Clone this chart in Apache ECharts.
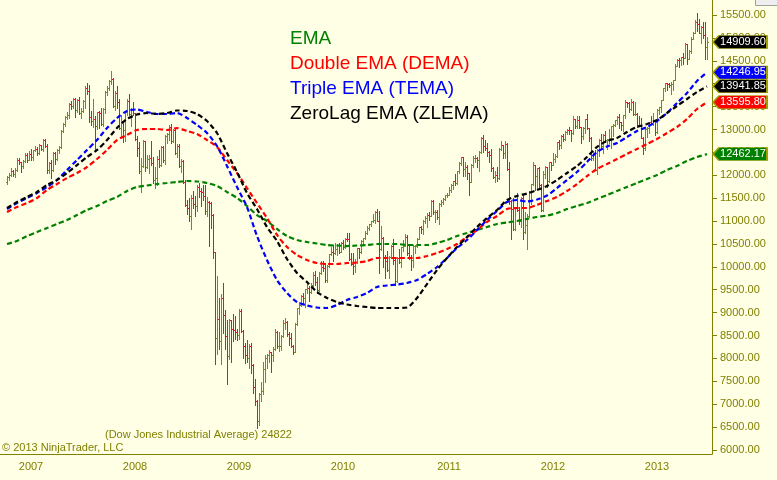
<!DOCTYPE html>
<html><head><meta charset="utf-8">
<script src="https://cdn.jsdelivr.net/npm/echarts@6/dist/echarts.min.js"></script>
<style>html,body{margin:0;padding:0;background:#FFFFE6;}#c{width:777px;height:480px;}</style>
</head><body><div id="c"></div>
<script>
// Weekly Dow Jones Industrial Average bars, [open, high, low, close], week ending Fridays
const years = ['2006','2007','2008','2009','2010','2011','2012','2013'];
const yearTickLabels = ['2007','2008','2009','2010','2011','2012','2013'];
const bars2006 = [
[11850,11990,11800,11960],[11960,12050,11900,12002],[12002,12167,11980,12090],[12090,12120,11990,12031],
[12031,12160,11960,12108],[12108,12380,12090,12342],[12342,12370,12250,12280],[12280,12300,12080,12194],
[12194,12340,12150,12307],[12307,12480,12280,12445],[12445,12480,12300,12343],[12343,12520,12330,12463]];
const bars2007 = [
[12463,12580,12340,12398],[12398,12560,12340,12556],[12556,12630,12520,12565],[12565,12620,12450,12487],
[12487,12680,12470,12653],[12653,12670,12560,12580],[12580,12790,12540,12768],[12768,12795,12620,12647],
[12647,12680,12050,12114],[12114,12300,12040,12276],[12276,12340,11940,12110],[12110,12500,12100,12481],
[12481,12500,12250,12354],[12354,12580,12330,12560],[12560,12640,12480,12612],[12612,12980,12600,12961],
[12961,13150,12940,13121],[13121,13290,13070,13265],[13265,13390,13220,13326],[13326,13570,13250,13556],
[13556,13630,13450,13507],[13507,13690,13480,13668],[13668,13690,13270,13424],[13424,13660,13380,13640],
[13640,13700,13330,13361],[13361,13460,13250,13409],[13409,13640,13380,13612],[13612,13940,13480,13908],
[13908,14020,13780,13851],[13851,13980,13160,13266],[13266,13410,13090,13182],[13182,13660,13050,13239],
[13239,13300,12520,13079],[13079,13390,13020,13379],[13379,13400,13030,13358],[13358,13470,13090,13113],
[13113,13480,13070,13442],[13442,13850,13350,13820],[13820,13960,13760,13896],[13896,14090,13860,14066],
[14066,14280,14000,14093],[14093,14130,13500,13522],[13522,13830,13420,13807],[13807,13950,13480,13595],
[13595,13660,13000,13042],[13042,13310,12860,13177],[13177,13180,12730,12981],[12981,13400,12750,13372],
[13372,13660,13310,13626],[13626,13780,13320,13340],[13340,13480,13070,13451],[13451,13600,13310,13366]];
const bars2008 = [
[13366,13370,12780,12800],[12800,12850,12430,12606],[12606,12730,12050,12099],[12099,12380,11630,12207],
[12207,12770,12180,12743],[12743,12750,12100,12182],[12182,12450,12150,12348],[12348,12450,12050,12381],
[12381,12750,12230,12266],[12266,12400,11840,11894],[11894,12180,11730,11951],[11951,12420,11780,12361],
[12361,12560,12180,12216],[12216,12650,12210,12610],[12610,12650,12300,12325],[12325,12880,12240,12849],
[12849,12920,12700,12891],[12891,13100,12780,13058],[13058,13130,12700,12745],[12745,13020,12720,12986],
[12986,13010,12460,12480],[12480,12690,12400,12638],[12638,12680,12190,12210],[12210,12350,12080,12307],
[12307,12330,11830,11843],[11843,11890,11330,11346],[11346,11470,11150,11289],[11289,11500,11000,11100],
[11100,11560,10830,11496],[11496,11650,11280,11370],[11370,11550,11120,11327],[11327,11780,11210,11734],
[11734,11830,11530,11659],[11659,11720,11320,11628],[11628,11790,11450,11543],[11543,11790,11150,11220],
[11220,11520,11100,11421],[11421,11440,10460,11388],[11388,11420,10850,11143],[11143,11150,10200,10325],
[10325,10330,7880,8451],[8451,9800,8090,8852],[8852,9330,8200,8378],[8378,9400,7880,9325],
[9325,9650,8550,8943],[8943,9050,8200,8497],[8497,8830,7450,8046],[8046,8870,7990,8829],
[8829,8840,7920,8635],[8635,8960,8390,8629],[8629,8920,8420,8579],[8579,8650,8400,8515]];
const bars2009 = [
[8515,9080,8420,9034],[9034,9090,8570,8599],[8599,8630,8000,8281],[8281,8330,7910,8077],
[8077,8400,7930,8001],[8001,8320,7800,8280],[8280,8330,7680,7850],[7850,7880,7250,7366],
[7366,7560,6990,7063],[7063,7100,6470,6627],[6627,7250,6540,7224],[7224,7490,7060,7279],
[7279,7930,7220,7776],[7776,8080,7490,8018],[8018,8090,7790,8083],[8083,8180,7930,8131],
[8131,8140,7700,8076],[8076,8260,7940,8212],[8212,8650,8180,8575],[8575,8600,8220,8268],
[8268,8580,8160,8277],[8277,8520,8190,8500],[8500,8830,8470,8764],[8764,8880,8650,8799],
[8799,8810,8480,8540],[8540,8580,8300,8438],[8438,8550,8260,8281],[8281,8300,8090,8147],
[8147,8780,8140,8744],[8744,9110,8720,9093],[9093,9230,8980,9172],[9172,9390,9150,9370],
[9370,9420,9200,9321],[9321,9510,9130,9506],[9506,9630,9430,9544],[9544,9580,9250,9441],
[9441,9650,9420,9606],[9606,9880,9580,9820],[9820,9900,9610,9665],[9665,9780,9430,9488],
[9488,9890,9480,9865],[9865,10120,9850,9996],[9996,10120,9900,9972],[9972,10090,9680,9713],
[9713,10050,9680,10023],[10023,10290,10000,10271],[10271,10440,10260,10319],[10319,10470,10120,10310],
[10310,10520,10270,10389],[10389,10500,10250,10471],[10471,10530,10300,10329],[10329,10540,10320,10520]];
const bars2010 = [
[10520,10580,10390,10428],[10428,10630,10420,10618],[10618,10730,10560,10610],[10610,10730,10150,10173],
[10173,10300,10030,10067],[10067,10310,9840,10012],[10012,10170,9880,10099],[10099,10420,10080,10402],
[10402,10420,10190,10325],[10325,10580,10300,10566],[10566,10640,10500,10625],[10625,10790,10600,10742],
[10742,10900,10720,10851],[10851,10930,10800,10927],[10927,11010,10900,10997],[10997,11150,10980,11019],
[11019,11220,10950,11204],[11204,11260,11000,11009],[11009,11210,9870,10380],[10380,10900,10370,10620],
[10620,10660,10000,10193],[10193,10260,9760,10137],[10137,10340,9920,9931],[9931,10240,9760,10212],
[10212,10480,10200,10450],[10450,10600,10070,10144],[10144,10180,9610,9686],[9686,10220,9680,10198],
[10198,10390,10080,10098],[10098,10440,9990,10425],[10425,10590,10350,10466],[10466,10720,10460,10653],
[10653,10700,10260,10303],[10303,10450,10180,10214],[10214,10260,9940,10150],[10150,10470,9990,10448],
[10448,10480,10300,10462],[10462,10630,10440,10608],[10608,10870,10600,10861],[10861,10900,10730,10829],
[10829,11020,10710,11006],[11006,11100,10950,11063],[11063,11170,10880,11133],[11133,11200,11030,11118],
[11118,11450,11110,11445],[11445,11450,11150,11193],[11193,11240,10990,11204],[11204,11240,11050,11092],
[11092,11390,10930,11382],[11382,11460,11340,11410],[11410,11500,11370,11492],[11492,11580,11450,11573],
[11573,11620,11530,11578]];
const bars2011 = [
[11578,11750,11570,11675],[11675,11800,11630,11787],[11787,11880,11690,11871],[11871,12020,11790,11824],
[11824,12100,11820,12092],[12092,12280,12060,12273],[12273,12400,12230,12391],[12391,12400,11980,12130],
[12130,12290,11990,12170],[12170,12230,11920,12044],[12044,12050,11560,11858],[11858,12240,11850,12221],
[12221,12420,12180,12376],[12376,12450,12290,12380],[12380,12400,12170,12342],[12342,12530,12090,12505],
[12505,12830,12490,12811],[12811,12880,12510,12638],[12638,12780,12560,12596],[12596,12700,12430,12512],
[12512,12520,12300,12441],[12441,12570,12090,12151],[12151,12180,11930,11952],[11952,12100,11860,12004],
[12004,12190,11870,11934],[11934,12600,11920,12582],[12582,12750,12550,12657],[12657,12660,12380,12480],
[12480,12750,12380,12681],[12681,12700,12110,12143],[12143,12300,11380,11445],[11445,11450,10600,11269],
[11269,11500,10800,10818],[10818,11300,10810,11285],[11285,11620,11230,11240],[11240,11300,10930,10993],
[10993,11520,10860,11510],[11510,11570,10600,10771],[10771,11200,10750,10913],[10913,11150,10400,11104],
[11104,11650,11080,11644],[11644,11820,11380,11809],[11809,12290,11790,12231],[12231,12230,11680,11983],
[11983,12160,11720,12153],[12153,12190,11700,11796],[11796,11800,11230,11231],[11231,12100,11230,12019],
[12019,12200,11940,12184],[12184,12190,11740,11866],[11866,12300,11860,12294],[12294,12300,12120,12218]];
const bars2012 = [
[12218,12480,12220,12360],[12360,12470,12300,12422],[12422,12730,12400,12720],[12720,12760,12570,12660],
[12660,12870,12600,12862],[12862,12900,12740,12801],[12801,12970,12780,12950],[12950,13010,12900,12983],
[12983,13060,12900,12978],[12978,12990,12740,12922],[12922,13290,12900,13233],[13233,13240,13040,13081],
[13081,13290,13040,13212],[13212,13300,13040,13060],[13060,13060,12710,12850],[12850,13060,12790,13029],
[13029,13240,12930,13228],[13228,13340,13020,13038],[13038,13040,12740,12820],[12820,12840,12340,12369],
[12369,12540,12340,12454],[12454,12560,12110,12119],[12119,12570,12030,12554],[12554,12800,12420,12767],
[12767,12900,12570,12640],[12640,12900,12490,12880],[12880,12970,12730,12772],[12772,12800,12570,12777],
[12777,13000,12710,12822],[12822,13080,12590,13075],[13075,13110,12860,13096],[13096,13210,13080,13207],
[13207,13300,13130,13275],[13275,13330,13040,13158],[13158,13160,12990,13090],[13090,13310,12960,13306],
[13306,13650,13250,13593],[13593,13600,13490,13579],[13579,13590,13390,13437],[13437,13660,13420,13610],
[13610,13620,13320,13329],[13329,13590,13320,13343],[13343,13350,13060,13107],[13107,13290,13070,13093],
[13093,13250,12810,12815],[12815,12840,12470,12588],[12588,13010,12560,13010],[13010,13050,12840,13026],
[13026,13170,12930,13155],[13155,13300,13120,13135],[13135,13350,13090,13191],[13191,13200,12880,12938]];
const bars2013 = [
[12938,13440,12930,13435],[13435,13490,13330,13488],[13488,13650,13380,13650],[13650,13900,13640,13896],
[13896,14020,13830,14010],[14010,14020,13860,13993],[13993,14020,13930,13982],[13982,14040,13780,14001],
[14001,14090,13860,14090],[14090,14420,14080,14397],[14397,14540,14380,14515],[14515,14560,14370,14512],
[14512,14590,14400,14579],[14579,14680,14430,14565],[14565,14890,14570,14865],[14865,14870,14440,14547],
[14547,14740,14540,14712],[14712,15010,14680,14974],[14974,15130,14970,15118],[15118,15390,15100,15354],
[15354,15540,15160,15303],[15303,15410,15110,15116],[15116,15250,14880,15248],[15248,15340,14990,15070],
[15070,15340,14550,14800],[14800,15010,14550,14909.60]];
const yearBars = [bars2006,bars2007,bars2008,bars2009,bars2010,bars2011,bars2012,bars2013];

// Moving averages, one value every 5th weekly bar (starting with the first bar)
const maStep = 5;
const emaVals = [10499,10565,10674,10761,10848,10936,11023,11132,11242,11329,
11438,11526,11657,11744,11777,11809,11831,11853,11875,11864,
11831,11766,11635,11504,11329,11132,11001,10827,10674,10586,
10543,10510,10477,10466,10455,10466,10477,10499,10499,10499,
10477,10477,10477,10521,10586,10674,10739,10805,10870,10936,
10969,11001,11045,11089,11121,11176,11263,11329,11394,11482,
11569,11657,11744,11831,11919,12006,12115,12203,12312,12399,12462.17];
const demaVals = [11198,11307,11394,11504,11678,11809,11940,12050,12181,12355,
12552,12770,12880,12989,13011,13011,12989,13032,12967,12901,
12770,12618,12334,12050,11722,11394,11067,10696,10434,10259,
10150,10084,10062,10062,10084,10095,10128,10193,10193,10193,
10193,10193,10237,10302,10390,10499,10652,10805,10980,11111,
11263,11285,11285,11351,11438,11526,11657,11809,11984,12137,
12246,12355,12465,12574,12683,12792,12923,13054,13229,13447,13595.80];
const temaVals = [11263,11394,11504,11613,11744,11897,12115,12334,12552,12770,
13032,13251,13404,13437,13382,13338,13338,13360,13251,13098,
12923,12639,12203,11744,11307,10674,10150,9713,9429,9232,
9156,9112,9101,9167,9276,9342,9429,9560,9593,9615,
9647,9713,9844,9997,10193,10412,10586,10805,11023,11220,
11416,11460,11427,11471,11558,11722,11897,12072,12290,12508,
12628,12705,12836,12967,13054,13185,13360,13578,13797,14059,14246.95];
const zlemaVals = [11285,11416,11526,11635,11788,11897,12050,12224,12399,12552,
12770,13032,13229,13327,13360,13338,13360,13415,13404,13338,
13185,12923,12486,12072,11613,11263,10870,10565,10171,9866,
9669,9451,9320,9232,9178,9145,9123,9101,9101,9101,
9112,9320,9625,9931,10193,10434,10652,10870,11067,11242,
11460,11547,11602,11678,11766,11897,12050,12203,12399,12618,
12749,12814,12945,13054,13120,13207,13360,13513,13666,13819,13941.85];

const seriesNames = ['EMA','Double EMA (DEMA)','Triple EMA (TEMA)','ZeroLag EMA (ZLEMA)'];
const seriesColors = ['#008000','#FF0000','#0000FF','#000000'];
const UP = '#6B8E23', DOWN = '#DC143C', OLIVE = '#808000';
const FONT = '"Liberation Sans", Arial, sans-serif';

// category axis: a few empty slots before/after the weekly bars
const padBefore = 3, padAfter = 2;
const cats = [];
for (let p = 0; p < padBefore; p++) cats.push('padA' + p);
const ohlc = [];
yearBars.forEach((arr, yi) => arr.forEach((b, k) => {
  ohlc.push([cats.length, b[0], b[1], b[2], b[3]]);
  cats.push(years[yi] + '-' + k);
}));
for (let p = 0; p < padAfter; p++) cats.push('padB' + p);
const isYearStart = (idx, val) => {
  const s = String(val).split('-');
  return s[1] === '0' && yearTickLabels.indexOf(s[0]) >= 0;
};

function renderOHLC(params, api) {
  const i = api.value(0), o = api.value(1), h = api.value(2), l = api.value(3), c = api.value(4);
  const pH = api.coord([i, h]), pL = api.coord([i, l]), pO = api.coord([i, o]), pC = api.coord([i, c]);
  const x = Math.round(pH[0]) + 0.5;
  const color = c >= o ? UP : DOWN;
  const yo = Math.round(pO[1]) + 0.5, yc = Math.round(pC[1]) + 0.5;
  return { type: 'group', children: [
    { type: 'line', shape: { x1: x, y1: Math.round(pH[1]), x2: x, y2: Math.round(pL[1]) + 1 }, style: { stroke: color, lineWidth: 1 } },
    { type: 'line', shape: { x1: x - 1.5, y1: yo, x2: x, y2: yo }, style: { stroke: color, lineWidth: 1 } },
    { type: 'line', shape: { x1: x, y1: yc, x2: x + 1.5, y2: yc }, style: { stroke: color, lineWidth: 1 } }
  ]};
}

const maArrays = [emaVals, demaVals, temaVals, zlemaVals];
const maSeries = maArrays.map((vals, s) => ({
  type: 'line', name: seriesNames[s], xAxisIndex: 0, yAxisIndex: 0,
  data: vals.map((v, j) => [padBefore + j * maStep, v]),
  symbol: 'none', smooth: 0.25, silent: true, z: 3 + s,
  lineStyle: { color: seriesColors[s], width: 2.2, type: [5, 3] },
  itemStyle: { color: seriesColors[s] }
}));

// last-value flags on the price axis
const closeLast = bars2013[bars2013.length - 1][3];
const flagItems = [
  { v: closeLast, bg: '#000000' },
  { v: temaVals[temaVals.length - 1], bg: '#0000FF' },
  { v: zlemaVals[zlemaVals.length - 1], bg: '#000000' },
  { v: demaVals[demaVals.length - 1], bg: '#FF0000' },
  { v: emaVals[emaVals.length - 1], bg: '#008000' }
];
maSeries[3].markPoint = {
  silent: true,
  symbol: 'path://M0,6.5L6,0L54,0L54,13L6,13Z',
  symbolSize: [54, 13], symbolKeepAspect: false,
  symbolOffset: [29, 0],
  label: { show: true, position: 'inside', color: '#FFFFFF', fontSize: 11, fontFamily: FONT, offset: [3, 0], formatter: p => p.value },
  data: flagItems.map(f => ({ coord: [cats.length - 1, f.v], value: f.v.toFixed(2), itemStyle: { color: f.bg, borderColor: '#A0A000', borderWidth: 1 } }))
};

const chart = echarts.init(document.getElementById('c'), null, { renderer: 'canvas' });
chart.setOption({
  backgroundColor: '#FFFFE6',
  animation: false,
  grid: [
    { left: 0, right: 65, top: 0, bottom: 26 },
    { left: 0, right: 65, top: 15, bottom: 30 }
  ],
  legend: {
    orient: 'vertical', left: 280, top: 24, itemGap: 6, itemWidth: 0, itemHeight: 0,
    icon: 'none', selectedMode: false,
    textStyle: { fontSize: 19, fontFamily: FONT, lineHeight: 19 },
    data: seriesNames.map((n, s) => ({ name: n, icon: 'none', textStyle: { color: seriesColors[s] } }))
  },
  xAxis: [
    { type: 'category', gridIndex: 0, data: cats, boundaryGap: true,
      axisLine: { lineStyle: { color: OLIVE, width: 1 } },
      axisTick: { alignWithLabel: true, interval: isYearStart, length: 5, lineStyle: { color: OLIVE } },
      axisLabel: { interval: isYearStart, formatter: v => String(v).split('-')[0], color: OLIVE, fontSize: 11, fontFamily: FONT, margin: 7 },
      splitLine: { show: false } },
    { type: 'value', gridIndex: 1, min: 0, max: 1, show: false }
  ],
  yAxis: [
    { type: 'value', gridIndex: 0, position: 'right', min: 5913, max: 15828,
      axisLine: { show: true, onZero: false, lineStyle: { color: OLIVE, width: 1 } },
      axisTick: { show: false }, axisLabel: { show: false }, splitLine: { show: false } },
    { type: 'value', gridIndex: 1, position: 'right', min: 6000, max: 15500, interval: 500,
      axisLine: { show: false, onZero: false },
      axisTick: { show: true, length: 5, lineStyle: { color: OLIVE } },
      axisLabel: { formatter: v => v.toFixed(2), color: OLIVE, fontSize: 11, fontFamily: FONT, margin: 8 },
      splitLine: { show: false } }
  ],
  series: [
    { type: 'custom', name: 'DJIA', xAxisIndex: 0, yAxisIndex: 0, renderItem: renderOHLC,
      data: ohlc, encode: { x: 0, y: [2, 3] }, silent: true, z: 2 }
  ].concat(maSeries),
  graphic: [
    { type: 'text', left: 105, top: 429, style: { text: '(Dow Jones Industrial Average) 24822', fill: OLIVE, font: '11px ' + FONT } },
    { type: 'text', left: 2, top: 442, style: { text: '\u00A9 2013 NinjaTrader, LLC', fill: OLIVE, font: '11px ' + FONT } },
    { type: 'rect', left: 755, top: -6, shape: { width: 30, height: 11 }, style: { fill: '#EEEEEE', stroke: '#A0A0A0', lineWidth: 1 } }
  ]
});
</script>
</body></html>
